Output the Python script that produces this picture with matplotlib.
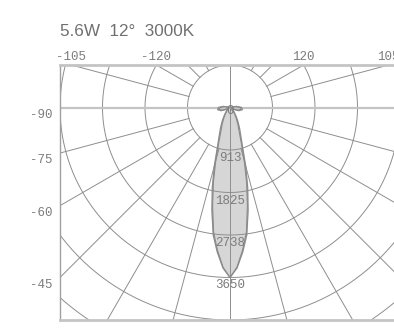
import numpy as np
import matplotlib.pyplot as plt

# Luminous intensity distribution (cd) against gamma angle from nadir
title = "5.6W  12°  3000K"
gamma = [0, 2.5, 5, 7.5, 10, 12.5, 15, 17.5, 20, 25, 30, 35, 40, 45, 50, 55, 60, 70, 80, 90, 100, 110]
cd_c0 = [3650, 3450, 3120, 2760, 2240, 1750, 1300, 900, 700, 480, 330, 220, 150, 110, 80, 40, 60, 200, 270, 250, 140, 0]
cd_c90 = [3650, 3430, 3080, 2700, 2150, 1650, 1180, 820, 600, 400, 270, 180, 120, 90, 60, 30, 50, 170, 240, 220, 120, 0]

ring_values = [0, 912.5, 1825, 2737.5, 3650]
ring_labels = ["0", "913", "1825", "2738", "3650"]
side_angles = [-90, -75, -60, -45]
top_angles = [-105, -120, 120, 105]

step = ring_values[1]
grid_col = "#8e8e8e"
label_col = "#7c7c7c"

fig = plt.figure(figsize=(3.94, 3.28), dpi=100)
ax = fig.add_axes([60 / 394, 8 / 328, 340 / 394, 255 / 328])
ax.set_xlim(-4 * step, 4 * step)
ax.set_ylim(-5 * step, step)
ax.set_xticks([])
ax.set_yticks([])

# concentric rings
th = np.linspace(0, 2 * np.pi, 500)
for k in range(1, 8):
    ax.plot(k * step * np.cos(th), k * step * np.sin(th), color=grid_col, lw=0.7, zorder=2)

# radial lines every 15 degrees, starting at the first ring
for a in range(0, 360, 15):
    if a % 90 == 0:
        continue
    r = np.radians(a)
    ax.plot([step * np.sin(r), 9 * step * np.sin(r)],
            [-step * np.cos(r), -9 * step * np.cos(r)],
            color=grid_col, lw=0.7, zorder=2)
ax.plot([0, 0], [-5 * step, step], color=grid_col, lw=0.7, zorder=2)
ax.axhline(0, color="#c4c4c4", lw=1.6, zorder=2)

# intensity curves
g = np.radians(gamma)
for cd, fill in [(cd_c0, True), (cd_c90, False)]:
    cd = np.array(cd)
    x = np.concatenate([-cd[::-1] * np.sin(g[::-1]), cd * np.sin(g)])
    y = np.concatenate([-cd[::-1] * np.cos(g[::-1]), -cd * np.cos(g)])
    if fill:
        ax.fill(x, y, color="#d6d6d6", zorder=1)
    ax.plot(x, y, color="#8a8a8a", lw=0.8, zorder=3)

for spine in ["top", "bottom"]:
    ax.spines[spine].set_color("#c4c4c4")
    ax.spines[spine].set_linewidth(2)
ax.spines["left"].set_color("#a0a0a0")
ax.spines["left"].set_linewidth(1)
ax.spines["right"].set_visible(False)

lab_font = dict(family="Liberation Mono", fontsize=9, color=label_col)

# intensity values on the nadir axis
for v, s in zip(ring_values, ring_labels):
    off = -3 if v == 0 else -8
    ax.annotate(s, (0, -v), xytext=(0, off), textcoords="offset pixels",
                ha="center", va="center", zorder=4, **lab_font)

# angle labels on the left edge
for a in side_angles:
    y = -4 * step / np.tan(np.radians(-a))
    ax.annotate(str(a), (-4 * step, y), xytext=(-7, -7), textcoords="offset pixels",
                ha="right", va="center", annotation_clip=False, **lab_font)

# angle labels on the top edge
for a in top_angles:
    x = -step * np.tan(np.radians(a))
    ax.annotate(str(a), (x, step), xytext=(0, 8), textcoords="offset pixels",
                ha="center", va="center", annotation_clip=False, **lab_font)

fig.text(60 / 394, 1 - 31 / 328, title, family="Liberation Sans", fontsize=12.3,
         color="#707070", ha="left", va="center")

fig.savefig("out.png", dpi=100, facecolor="white")
